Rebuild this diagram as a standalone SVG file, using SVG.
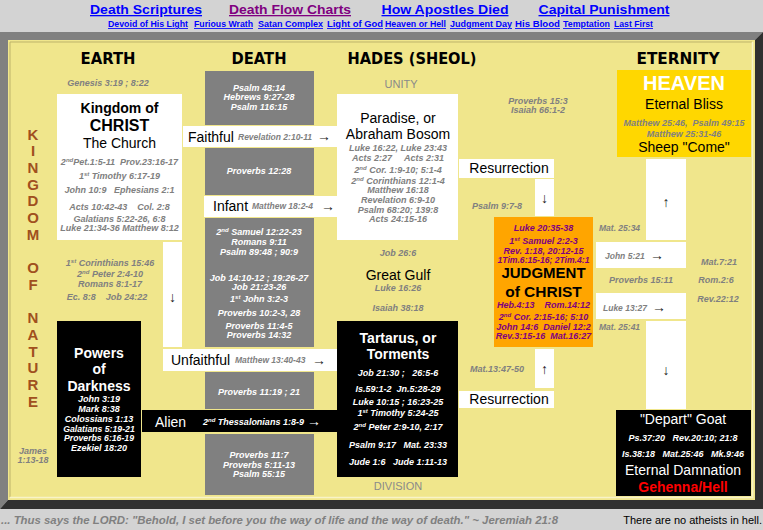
<svg xmlns="http://www.w3.org/2000/svg" width="763" height="530" viewBox="0 0 763 530">
<style>
text{font-family:"Liberation Sans",Arial,sans-serif}
.ref{font-size:9px;font-weight:bold;font-style:italic;fill:#808080;text-anchor:middle}
.rs{font-size:8.5px;font-weight:bold;font-style:italic;fill:#808080}
.sup{font-size:6px}
.lbl{font-size:14px;fill:#000}
.c{text-anchor:middle}
.b{font-weight:bold}
.hd{font-family:"DejaVu Sans",sans-serif;font-weight:bold;font-size:16px;text-anchor:middle;fill:#000}
.nat{font-size:15px;font-weight:bold;fill:#a0501e;text-anchor:middle}
.lnk{font-size:13px;font-weight:bold;text-anchor:middle;text-decoration:underline}
.sl{font-size:8.5px;font-weight:bold;fill:#0000ff;text-decoration:underline}
.gray{fill:#808080}
.wb{fill:#fff}
.arr{font-size:14px;fill:#222}
.zone{font-size:11px;fill:#8a8a8a;text-anchor:middle}
.w{fill:#fff}
.p{fill:#800080}
.red{fill:#ff0000}
</style>
<rect x="0" y="0" width="763" height="530" fill="#d3d3d3"/>
<g id="header">
<text class="lnk" x="146" y="14" fill="#0000ff" textLength="112" lengthAdjust="spacingAndGlyphs">Death Scriptures</text>
<text class="lnk" x="290" y="14" fill="#800080" textLength="122" lengthAdjust="spacingAndGlyphs">Death Flow Charts</text>
<text class="lnk" x="445" y="14" fill="#0000ff" textLength="127" lengthAdjust="spacingAndGlyphs">How Apostles Died</text>
<text class="lnk" x="604" y="14" fill="#0000ff" textLength="131" lengthAdjust="spacingAndGlyphs">Capital Punishment</text>
<text class="sl" x="108" y="27" textLength="80" lengthAdjust="spacingAndGlyphs">Devoid of His Light</text>
<text class="sl" x="194" y="27" textLength="59" lengthAdjust="spacingAndGlyphs">Furious Wrath</text>
<text class="sl" x="258" y="27" textLength="65" lengthAdjust="spacingAndGlyphs">Satan Complex</text>
<text class="sl" x="327" y="27" textLength="56" lengthAdjust="spacingAndGlyphs">Light of God</text>
<text class="sl" x="385" y="27" textLength="61" lengthAdjust="spacingAndGlyphs">Heaven or Hell</text>
<text class="sl" x="450" y="27" textLength="62" lengthAdjust="spacingAndGlyphs">Judgment Day</text>
<text class="sl" x="515" y="27" textLength="45" lengthAdjust="spacingAndGlyphs">His Blood</text>
<text class="sl" x="563" y="27" textLength="47" lengthAdjust="spacingAndGlyphs">Temptation</text>
<text class="sl" x="614" y="27" textLength="39" lengthAdjust="spacingAndGlyphs">Last First</text>
</g>
<g id="frame">
<polygon points="0,32 763,32 755,40 8,40 8,500 0,509" fill="#808080"/>
<polygon points="763,32 763,509 0,509 8,500 755,500 755,40" fill="#303030"/>
<rect x="8" y="40" width="747" height="460" fill="#f0e68c"/>
<polyline points="10,497 10,42 752,42" fill="none" stroke="#bdb36a" stroke-width="1"/>
<polyline points="10,497.5 752.5,497.5 752.5,42" fill="none" stroke="#f8f3c8" stroke-width="1.5"/>
</g>
<g id="column-headers">
<text class="hd" x="108" y="63.5" textLength="55" lengthAdjust="spacingAndGlyphs">EARTH</text>
<text class="hd" x="259" y="63.5" textLength="55" lengthAdjust="spacingAndGlyphs">DEATH</text>
<text class="hd" x="412" y="63.5" textLength="129" lengthAdjust="spacingAndGlyphs">HADES (SHEOL)</text>
<text class="hd" x="678" y="63.5" textLength="83" lengthAdjust="spacingAndGlyphs">ETERNITY</text>
</g>
<g id="kingdom-of-nature">
<text class="nat" x="33" y="139.5">K</text>
<text class="nat" x="33" y="156.2">I</text>
<text class="nat" x="33" y="172.9">N</text>
<text class="nat" x="33" y="189.5">G</text>
<text class="nat" x="33" y="206.3">D</text>
<text class="nat" x="33" y="223">O</text>
<text class="nat" x="33" y="239.7">M</text>
<text class="nat" x="33" y="273.1">O</text>
<text class="nat" x="33" y="289.8">F</text>
<text class="nat" x="33" y="323.2">N</text>
<text class="nat" x="33" y="339.9">A</text>
<text class="nat" x="33" y="356.5">T</text>
<text class="nat" x="33" y="373.3">U</text>
<text class="nat" x="33" y="390">R</text>
<text class="nat" x="33" y="406.5">E</text>
<text class="ref" x="33" y="454">James</text>
<text class="ref" x="33" y="463">1:13-18</text>
</g>
<g id="earth-refs">
<text class="ref" x="108" y="86" xml:space="preserve">Genesis 3:19 ; 8:22</text>
<text class="ref" x="110" y="266">1<tspan class="sup" dy="-3">st</tspan><tspan dy="3"> Corinthians 15:46</tspan></text>
<text class="ref" x="110" y="277">2<tspan class="sup" dy="-3">nd</tspan><tspan dy="3"> Peter 2:4-10</tspan></text>
<text class="ref" x="110" y="287">Romans 8:1-17</text>
<text class="ref" x="107" y="300" xml:space="preserve">Ec. 8:8    Job 24:22</text>
</g>
<g id="kingdom-of-christ">
<rect x="57" y="94" width="125" height="146" fill="#fff"/>
<text class="lbl c b" x="119.5" y="113">Kingdom of</text>
<text class="lbl c b" x="119.5" y="130.5" font-size="16" style="font-size:16px">CHRIST</text>
<text class="lbl c" x="119.5" y="148">The Church</text>
<text class="ref" x="119.5" y="165" xml:space="preserve">2<tspan class="sup" dy="-3">nd</tspan><tspan dy="3">Pet.1:5-11  Prov.23:16-17</tspan></text>
<text class="ref" x="119.5" y="179">1<tspan class="sup" dy="-3">st</tspan><tspan dy="3"> Timothy 6:17-19</tspan></text>
<text class="ref" x="119.5" y="193" xml:space="preserve">John 10:9   Ephesians 2:1</text>
<text class="ref" x="119.5" y="210" xml:space="preserve">Acts 10:42-43    Col. 2:8</text>
<text class="ref" x="119.5" y="222">Galatians 5:22-26, 6:8</text>
<text class="ref" x="119.5" y="231">Luke 21:34-36 Matthew 8:12</text>
</g>
<g id="powers-of-darkness">
<rect x="57" y="321" width="84" height="156" fill="#000"/>
<text class="lbl c b w" x="99" y="358">Powers</text>
<text class="lbl c b w" x="99" y="374">of</text>
<text class="lbl c b w" x="99" y="391">Darkness</text>
<text class="ref w" x="99" y="402">John 3:19</text>
<text class="ref w" x="99" y="412">Mark 8:38</text>
<text class="ref w" x="99" y="422">Colossians 1:13</text>
<text class="ref w" x="99" y="432" style="font-size:8.7px">Galatians 5:19-21</text>
<text class="ref w" x="99" y="441" style="font-size:8.7px">Proverbs 6:16-19</text>
<text class="ref w" x="99" y="451">Ezekiel 18:20</text>
</g>
<g id="death-column">
<rect x="205" y="71" width="109" height="54" class="gray"/>
<rect x="205" y="148" width="109" height="47" class="gray"/>
<rect x="205" y="218" width="109" height="129" class="gray"/>
<rect x="205" y="372" width="109" height="37" class="gray"/>
<rect x="205" y="434" width="109" height="61" class="gray"/>
<text class="ref w" x="259" y="91">Psalm 48:14</text>
<text class="ref w" x="259" y="100">Hebrews 9:27-28</text>
<text class="ref w" x="259" y="110">Psalm 116:15</text>
<text class="ref w" x="259" y="174">Proverbs 12:28</text>
<text class="ref w" x="259" y="235">2<tspan class="sup" dy="-3">nd</tspan><tspan dy="3"> Samuel 12:22-23</tspan></text>
<text class="ref w" x="259" y="245">Romans 9:11</text>
<text class="ref w" x="259" y="255">Psalm 89:48 ; 90:9</text>
<text class="ref w" x="259" y="281">Job 14:10-12 ; 19:26-27</text>
<text class="ref w" x="259" y="290">Job 21:23-26</text>
<text class="ref w" x="259" y="302">1<tspan class="sup" dy="-3">st</tspan><tspan dy="3"> John 3:2-3</tspan></text>
<text class="ref w" x="259" y="316">Proverbs 10:2-3, 28</text>
<text class="ref w" x="259" y="329">Proverbs 11:4-5</text>
<text class="ref w" x="259" y="338">Proverbs 14:32</text>
<text class="ref w" x="259" y="395">Proverbs 11:19 ; 21</text>
<text class="ref w" x="259" y="458">Proverbs 11:7</text>
<text class="ref w" x="259" y="468">Proverbs 5:11-13</text>
<text class="ref w" x="259" y="477">Psalm 55:15</text>
</g>
<g id="hades-labels">
<text class="zone" x="401" y="88">UNITY</text>
<text class="ref" x="398" y="256">Job 26:6</text>
<text class="lbl c" x="398" y="280">Great Gulf</text>
<text class="ref" x="398" y="291">Luke 16:26</text>
<text class="ref" x="398" y="311">Isaiah 38:18</text>
<text class="zone" x="398" y="490">DIVISION</text>
</g>
<g id="paradise">
<rect x="337" y="94" width="121" height="146" fill="#fff"/>
<text class="lbl c" x="398" y="123">Paradise, or</text>
<text class="lbl c" x="398" y="139">Abraham Bosom</text>
<text class="ref" x="398" y="151">Luke 16:22, Luke 23:43</text>
<text class="ref" x="398" y="161" xml:space="preserve">Acts 2:27     Acts 2:31</text>
<text class="ref" x="398" y="173">2<tspan class="sup" dy="-3">nd</tspan><tspan dy="3"> Cor. 1:9-10; 5:1-4</tspan></text>
<text class="ref" x="398" y="184">2<tspan class="sup" dy="-3">nd</tspan><tspan dy="3"> Corinthians 12:1-4</tspan></text>
<text class="ref" x="398" y="193">Matthew 16:18</text>
<text class="ref" x="398" y="203">Revelation 6:9-10</text>
<text class="ref" x="398" y="213">Psalm 68:20; 139:8</text>
<text class="ref" x="398" y="222">Acts 24:15-16</text>
</g>
<g id="tartarus">
<rect x="337" y="321" width="121" height="156" fill="#000"/>
<text class="lbl c b w" x="398" y="343">Tartarus, or</text>
<text class="lbl c b w" x="398" y="359">Torments</text>
<text class="ref w" x="398" y="376" xml:space="preserve">Job 21:30 ;   26:5-6</text>
<text class="ref w" x="398" y="392" xml:space="preserve">Is.59:1-2  Jn.5:28-29</text>
<text class="ref w" x="398" y="405">Luke 10:15 ; 16:23-25</text>
<text class="ref w" x="398" y="416">1<tspan class="sup" dy="-3">st</tspan><tspan dy="3"> Timothy 5:24-25</tspan></text>
<text class="ref w" x="398" y="430">2<tspan class="sup" dy="-3">nd</tspan><tspan dy="3"> Peter 2:9-10, 2:17</tspan></text>
<text class="ref w" x="398" y="448" xml:space="preserve">Psalm 9:17   Mat. 23:33</text>
<text class="ref w" x="398" y="465" xml:space="preserve">Jude 1:6   Jude 1:11-13</text>
</g>
<g id="judgment">
<rect x="494" y="217" width="99" height="130" fill="#ffa500"/>
<text class="ref p" x="543.5" y="231">Luke 20:35-38</text>
<text class="ref p" x="543.5" y="244">1<tspan class="sup" dy="-3">st</tspan><tspan dy="3"> Samuel 2:2-3</tspan></text>
<text class="ref p" x="543.5" y="254">Rev. 1:18, 20:12-15</text>
<text class="ref p" x="543.5" y="263" style="font-size:8.6px">1Tim.6:15-16; 2Tim.4:1</text>
<text class="lbl c b" x="543.5" y="278" style="font-size:15px">JUDGMENT</text>
<text class="lbl c b" x="543.5" y="296.5" style="font-size:15.5px">of CHRIST</text>
<text class="ref p" x="543.5" y="308" xml:space="preserve">Heb.4:13    Rom.14:12</text>
<text class="ref p" x="543.5" y="320">2<tspan class="sup" dy="-3">nd</tspan><tspan dy="3"> Cor. 2:15-16; 5:10</tspan></text>
<text class="ref p" x="543.5" y="330" xml:space="preserve">John 14:6  Daniel 12:2</text>
<text class="ref p" x="543.5" y="339" xml:space="preserve">Rev.3:15-16  Mat.16:27</text>
</g>
<g id="middle-refs">
<text class="ref" x="538" y="104">Proverbs 15:3</text>
<text class="ref" x="538" y="113">Isaiah 66:1-2</text>
<text class="ref" x="497" y="209">Psalm 9:7-8</text>
<text class="ref" x="497" y="372">Mat.13:47-50</text>
</g>
<g id="heaven">
<rect x="617" y="70" width="134" height="87" fill="#ffd700"/>
<text class="lbl c b w" x="684" y="90" style="font-size:20px">HEAVEN</text>
<text class="lbl c" x="684" y="109">Eternal Bliss</text>
<text class="ref" x="684" y="126" xml:space="preserve">Matthew 25:46,  Psalm 49:15</text>
<text class="ref" x="684" y="137">Matthew 25:31-46</text>
<text class="lbl c" x="684" y="152">Sheep "Come"</text>
</g>
<g id="depart">
<rect x="616" y="410" width="135" height="86" fill="#000"/>
<text class="lbl c w" x="683" y="424">"Depart" Goat</text>
<text class="ref w" x="683" y="441" xml:space="preserve">Ps.37:20   Rev.20:10; 21:8</text>
<text class="ref w" x="683" y="457" xml:space="preserve">Is.38:18   Mat.25:46   Mk.9:46</text>
<text class="lbl c w" x="683" y="475">Eternal Damnation</text>
<text class="lbl c b red" x="683" y="492">Gehenna/Hell</text>
</g>
<g id="eternity-refs">
<text class="rs" x="599" y="231">Mat. 25:34</text>
<text class="ref" x="719" y="265">Mat.7:21</text>
<text class="ref" x="641" y="283">Proverbs 15:11</text>
<text class="ref" x="716" y="283">Rom.2:6</text>
<text class="ref" x="718" y="302">Rev.22:12</text>
<text class="rs" x="599" y="330">Mat. 25:41</text>
</g>
<g id="connectors">
<rect x="183" y="126" width="154" height="21" class="wb"/>
<text class="lbl" x="188" y="142">Faithful</text>
<text class="rs" x="238" y="140">Revelation 2:10-11</text>
<text class="arr" x="317" y="141">→</text>
<rect x="204" y="196" width="133" height="21" class="wb"/>
<text class="lbl" x="213" y="211">Infant</text>
<text class="rs" x="252" y="209">Matthew 18:2-4</text>
<text class="arr" x="321" y="211">→</text>
<rect x="163" y="242" width="19" height="105" class="wb"/>
<text class="arr c" x="172.5" y="302">↓</text>
<rect x="163" y="349" width="174" height="22" class="wb"/>
<text class="lbl" x="171" y="365">Unfaithful</text>
<text class="rs" x="235" y="363">Matthew 13:40-43</text>
<text class="arr" x="312" y="365">→</text>
<rect x="142" y="410" width="195" height="22" fill="#000"/>
<text class="lbl w" x="155" y="427">Alien</text>
<text class="rs w" x="203" y="425" style="font-size:9px">2<tspan class="sup" dy="-3">nd</tspan><tspan dy="3"> Thessalonians 1:8-9</tspan></text>
<text class="arr w" x="307" y="426">→</text>
<rect x="459" y="159" width="95" height="19" class="wb"/>
<text class="lbl c" x="509" y="173">Resurrection</text>
<rect x="535" y="179" width="19" height="37" class="wb"/>
<text class="arr c" x="544.5" y="203">↓</text>
<rect x="535" y="349" width="19" height="39" class="wb"/>
<text class="arr c" x="544.5" y="374">↑</text>
<rect x="459" y="391" width="95" height="17" class="wb"/>
<text class="lbl c" x="509" y="404">Resurrection</text>
<rect x="646" y="159" width="40" height="81" class="wb"/>
<text class="arr c" x="666" y="207">↑</text>
<rect x="596" y="242" width="90" height="26" class="wb"/>
<text class="rs" x="605" y="259">John 5:21</text>
<text class="arr" x="650" y="260">→</text>
<rect x="596" y="293" width="90" height="26" class="wb"/>
<text class="rs" x="603" y="311">Luke 13:27</text>
<text class="arr" x="652" y="312">→</text>
<rect x="646" y="321" width="40" height="88" class="wb"/>
<text class="arr c" x="666" y="375">↓</text>
</g>
<g id="footer">
<text x="1" y="524" font-size="10" font-weight="bold" font-style="italic" fill="#808080" textLength="557" lengthAdjust="spacingAndGlyphs">... Thus says the LORD: "Behold, I set before you the way of life and the way of death." ~ Jeremiah 21:8</text>
<text x="762" y="524" font-size="11" fill="#000" text-anchor="end">There are no atheists in hell.</text>
</g>
</svg>
